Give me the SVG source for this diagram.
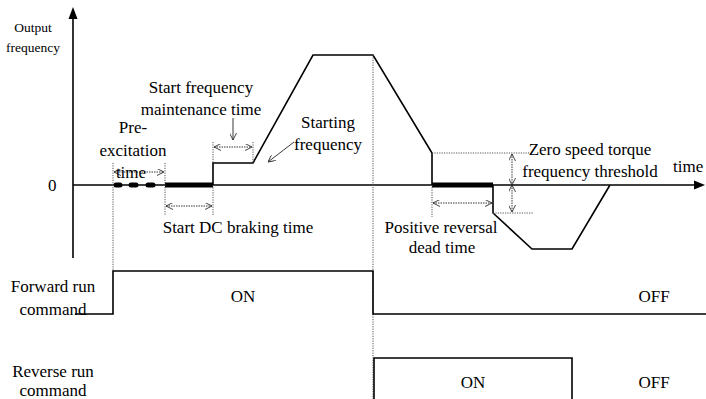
<svg xmlns="http://www.w3.org/2000/svg" width="706" height="399" viewBox="0 0 706 399" font-family="'Liberation Serif', 'DejaVu Serif', serif">
<style>
text{font-family:'Liberation Serif','DejaVu Serif',serif;font-size:17px;fill:#000}
.s{font-size:13.5px}
.ln{fill:none;stroke:#000;stroke-width:1.6}
.thick{fill:none;stroke:#000;stroke-width:5}
.dot{fill:none;stroke:#555;stroke-width:1;stroke-dasharray:1.2,1.2}
.dim{fill:none;stroke:#222;stroke-width:0.9;stroke-dasharray:1.5,1}
.arr{fill:none;stroke:#222;stroke-width:0.9}
</style>
<defs>
<marker id="oa" viewBox="0 0 10 10" refX="10" refY="5" markerWidth="7" markerHeight="7" orient="auto-start-reverse" markerUnits="userSpaceOnUse">
<path d="M0,0 L10,5 L0,10" fill="none" stroke="#222" stroke-width="1.2"/>
</marker>
</defs>
<g id="axes">
<line class="ln" x1="73" y1="16" x2="73" y2="258"/>
<polygon points="73,7 68.5,19 77.5,19" fill="#000"/>
<line class="ln" x1="73" y1="185" x2="696" y2="185"/>
<polygon points="705,185 694,180.5 694,189.5" fill="#000"/>
<text x="48" y="191">0</text>
<text class="s" x="33" y="32" text-anchor="middle">Output</text>
<text class="s" x="33" y="52" text-anchor="middle">frequency</text>
<text x="673" y="172">time</text>
</g>
<g id="frequency-curve">
<path class="ln" d="M213,185 V163 H253 L313,55 H373 L432,153 V185"/>
<path class="ln" d="M493,185 V213 L532,249 H572 L610,185"/>
<line class="thick" x1="165" y1="185" x2="213" y2="185"/>
<line class="thick" x1="432" y1="185" x2="493" y2="185"/>
<g stroke="#000" stroke-width="5" stroke-linecap="round">
<line x1="116" y1="185" x2="120" y2="185"/>
<line x1="131" y1="185" x2="136" y2="185"/>
<line x1="148" y1="185" x2="153" y2="185"/>
</g>
</g>
<g id="guides">
<line class="dot" x1="113" y1="163" x2="113" y2="271"/>
<line class="dot" x1="165" y1="163" x2="165" y2="215"/>
<line class="dot" x1="213" y1="142" x2="213" y2="163"/>
<line class="dot" x1="213" y1="185" x2="213" y2="215"/>
<line class="dot" x1="253" y1="142" x2="253" y2="163"/>
<line class="dot" x1="373" y1="55" x2="373" y2="399"/>
<line class="dot" x1="432" y1="153" x2="530" y2="153"/>
<line class="dot" x1="493" y1="213" x2="533" y2="213"/>
<line class="dot" x1="432" y1="185" x2="432" y2="217"/>
</g>
<g id="connectors">
<line class="dim" x1="114" y1="172" x2="164" y2="172" marker-start="url(#oa)" marker-end="url(#oa)"/>
<line class="dim" x1="166" y1="206" x2="212" y2="206" marker-start="url(#oa)" marker-end="url(#oa)"/>
<line class="dim" x1="214" y1="147" x2="252" y2="147" marker-start="url(#oa)" marker-end="url(#oa)"/>
<line class="arr" x1="233" y1="118" x2="233" y2="140" marker-end="url(#oa)"/>
<line class="arr" x1="294" y1="142" x2="268" y2="162" marker-end="url(#oa)"/>
<line class="dim" x1="433" y1="203" x2="492" y2="203" marker-start="url(#oa)" marker-end="url(#oa)"/>
<line class="dim" x1="512" y1="154" x2="512" y2="185" marker-start="url(#oa)" marker-end="url(#oa)"/>
<line class="dim" x1="512" y1="185" x2="512" y2="212" marker-start="url(#oa)" marker-end="url(#oa)"/>
</g>
<g id="labels">
<text x="133" y="133" text-anchor="middle">Pre-</text>
<text x="133" y="156" text-anchor="middle">excitation</text>
<text x="131" y="178" text-anchor="middle">time</text>
<text x="201" y="93" text-anchor="middle">Start frequency</text>
<text x="201" y="115" text-anchor="middle">maintenance time</text>
<text x="328" y="128" text-anchor="middle">Starting</text>
<text x="328" y="150" text-anchor="middle">frequency</text>
<text x="238" y="233" text-anchor="middle">Start DC braking time</text>
<text x="590" y="155" text-anchor="middle">Zero speed torque</text>
<text x="590" y="177" text-anchor="middle">frequency threshold</text>
<text x="441" y="233" text-anchor="middle">Positive reversal</text>
<text x="442" y="253" text-anchor="middle">dead time</text>
</g>
<g id="forward-run">
<path class="ln" d="M75,314 H113 V271 H373 V314 H706"/>
<text x="243" y="302" text-anchor="middle">ON</text>
<text x="654" y="302" text-anchor="middle">OFF</text>
<text x="53" y="292" text-anchor="middle">Forward run</text>
<text x="53" y="315" text-anchor="middle">command</text>
</g>
<g id="reverse-run">
<path class="ln" d="M374,399 V358 H572 V399"/>
<text x="473" y="388" text-anchor="middle">ON</text>
<text x="654" y="388" text-anchor="middle">OFF</text>
<text x="53" y="377" text-anchor="middle">Reverse run</text>
<text x="53" y="396" text-anchor="middle">command</text>
</g>
</svg>
